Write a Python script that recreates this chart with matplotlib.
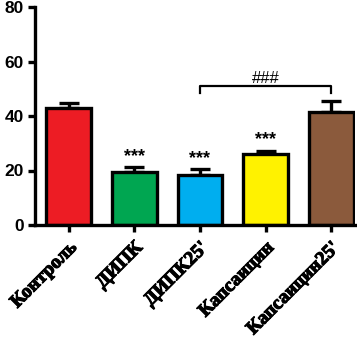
import matplotlib
matplotlib.use("Agg")
import matplotlib.pyplot as plt
import matplotlib.patheffects as pe
import numpy as np

groups = ["Контроль", "ДИПК", "ДИПК25'", "Капсаицин", "Капсаицин25'"]
means = [43.0, 19.6, 18.3, 25.9, 41.4]
errs = [1.8, 1.6, 2.1, 1.4, 4.1]
colors = ["#ed1c24", "#00a651", "#00aeef", "#fff200", "#8b5a3c"]
stars = ["", "***", "***", "***", ""]

fig = plt.figure(figsize=(3.57, 3.44), dpi=100)
ax = fig.add_axes([35/357, 119/344, 320/357, 218/344])

x = np.arange(len(groups))
ax.bar(x, means, width=0.68, color=colors, edgecolor="black", linewidth=2.4, zorder=2)
ax.errorbar(x, means, yerr=[np.zeros(len(errs)), errs], fmt="none", ecolor="black",
            elinewidth=2.4, capsize=7, capthick=2.4, zorder=1)

for i in range(len(groups)):
    if stars[i]:
        ax.text(x[i], means[i] + errs[i] + 0.8, stars[i], ha="center", va="bottom",
                fontsize=13, fontweight="bold", fontfamily="Liberation Sans")

# bracket between ДИПК25' and Капсаицин25'
ax.plot([2, 2, 4, 4], [48.3, 51, 51, 48.3], color="black", lw=1.6)
ax.text(3, 51.0, "###", ha="center", va="bottom", fontsize=12,
        fontfamily="Liberation Sans")

ax.set_xlim(-0.51, 4.36)
ax.set_ylim(0, 80)
ax.set_yticks([0, 20, 40, 60, 80])
ax.set_xticks(x)
ax.set_xticklabels(groups, rotation=45, ha="right", rotation_mode="anchor",
                   fontfamily="Liberation Serif", fontweight="bold", fontsize=14)
for lab in ax.get_xticklabels():
    lab.set_path_effects([pe.withStroke(linewidth=0.8, foreground="black")])
for lab in ax.get_yticklabels():
    lab.set_fontfamily("Liberation Sans")
    lab.set_fontweight("bold")
    lab.set_fontsize(12.5)
ax.spines["top"].set_visible(False)
ax.spines["right"].set_visible(False)
ax.spines["left"].set_linewidth(2.4)
ax.spines["bottom"].set_linewidth(2.4)
ax.tick_params(width=2.4, length=5, pad=3)
ax.tick_params(axis="x", pad=5)

fig.savefig("out.png", dpi=100)
